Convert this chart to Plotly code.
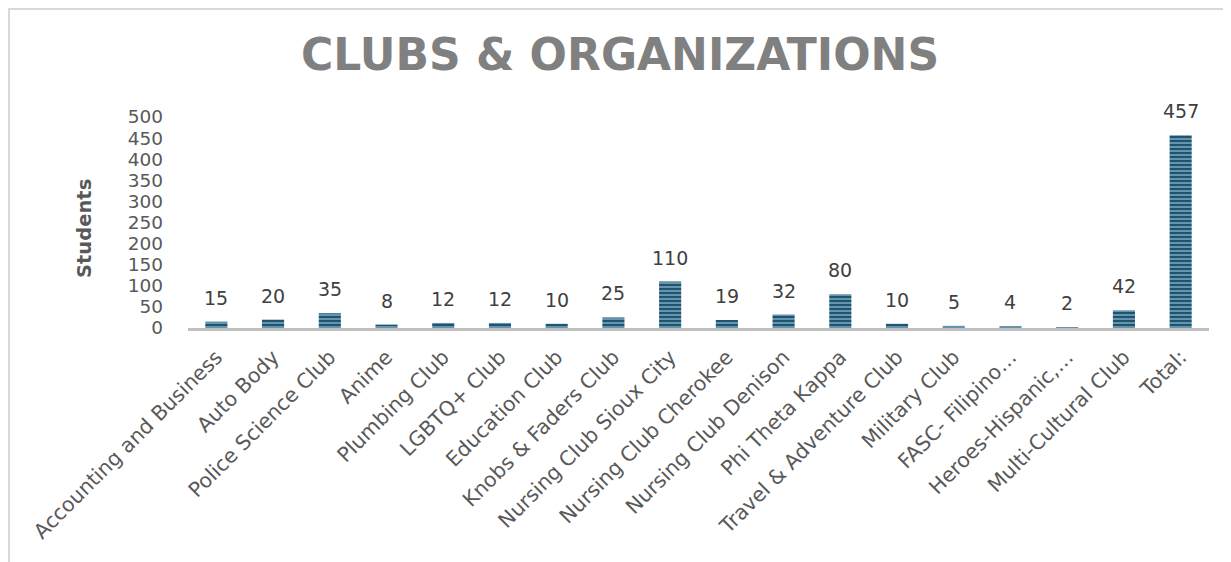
import plotly.graph_objects as go

categories = ["Accounting and Business", "Auto Body", "Police Science Club", "Anime",
              "Plumbing Club", "LGBTQ+ Club", "Education Club", "Knobs & Faders Club",
              "Nursing Club Sioux City", "Nursing Club Cherokee", "Nursing Club Denison",
              "Phi Theta Kappa", "Travel & Adventure Club", "Military Club",
              "FASC- Filipino…", "Heroes-Hispanic,…", "Multi-Cultural Club", "Total:"]
students = [15, 20, 35, 8, 12, 12, 10, 25, 110, 19, 32, 80, 10, 5, 4, 2, 42, 457]
y_ticks = [0, 50, 100, 150, 200, 250, 300, 350, 400, 450, 500]

OFF = 8  # default page body margin
W, H = 1231 - OFF, 562 - OFF
# plot area in screen px: left 188, right 1209, top 117, bottom 328
L = 188 - OFF
T = 117 - OFF
R = W - (1209 - OFF)
B = H - (328 - OFF)
pw, ph = W - L - R, H - T - B


def px_x(sx):
    return (sx - OFF - L) / pw


def px_y(sy):
    return (H - B - (sy - OFF)) / ph


fig = go.Figure()
fig.add_trace(go.Bar(
    x=categories, y=students,
    marker=dict(color="#1d5470", line=dict(width=0),
                pattern=dict(shape="-", fgcolor="#86b0c6", bgcolor="#1d5470",
                             size=4, solidity=0.35, fillmode="replace")),
    hoverinfo="x+y",
))

for c, v in zip(categories, students):
    fig.add_annotation(x=c, y=v, text=str(v), showarrow=False, yanchor="bottom",
                       yshift=11, font=dict(family="DejaVu Sans", size=19, color="#404040"))

fig.add_annotation(x=px_x(84), y=px_y(229), xref="paper", yref="paper",
                   xanchor="center", yanchor="middle",
                   text="<b>Students</b>", textangle=-90, showarrow=False,
                   font=dict(family="DejaVu Sans", size=19.5, color="#595959"))

fig.add_shape(type="rect", xref="paper", yref="paper",
              x0=px_x(9), x1=px_x(1260), y0=px_y(600), y1=px_y(9),
              line=dict(color="#d9d9d9", width=2), fillcolor="rgba(0,0,0,0)", layer="below")

fig.update_layout(
    width=W, height=H,
    margin=dict(l=L, r=R, t=T, b=B, autoexpand=False),
    paper_bgcolor="white", plot_bgcolor="white",
    bargap=0.61,
    showlegend=False,
    title=dict(text="CLUBS & ORGANIZATIONS",
               x=(620 - OFF) / W, xref="container", y=1 - (55 - OFF) / H, yref="container",
               xanchor="center", yanchor="middle",
               font=dict(family="DejaVu Sans", size=44, color="#808080", weight="bold")),
    xaxis=dict(tickangle=-45, tickfont=dict(family="DejaVu Sans", size=20.5, color="#595959"),
               showline=True, linecolor="#bfbfbf", linewidth=3, showgrid=False,
               ticks="", automargin=False, ticklabelstandoff=6),
    yaxis=dict(range=[0, 500], tickvals=y_ticks,
               tickfont=dict(family="DejaVu Sans", size=18.5, color="#595959"),
               showgrid=False, zeroline=False, showline=False, ticks="", automargin=False,
               ticklabelstandoff=24),
)

fig.write_html("out.html")
